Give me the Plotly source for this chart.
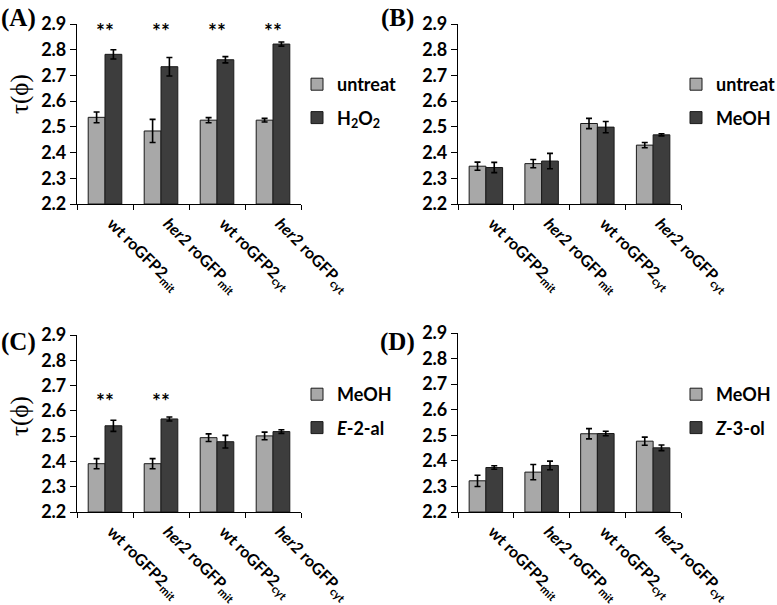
import plotly.graph_objects as go

# ---------------- data ----------------
categories = ["wt roGFP2<sub>mit</sub>", "<i>her2</i> roGFP<sub>mit</sub>",
              "wt roGFP2<sub>cyt</sub>", "<i>her2</i> roGFP<sub>cyt</sub>"]

y_ticks = [2.2, 2.3, 2.4, 2.5, 2.6, 2.7, 2.8, 2.9]

# Panel A
a_names = ["untreat", "H<sub>2</sub>O<sub>2</sub>"]
a_ctrl = [2.537, 2.484, 2.526, 2.526]
a_ctrl_err = [0.021, 0.045, 0.010, 0.007]
a_trt = [2.782, 2.734, 2.761, 2.822]
a_trt_err = [0.018, 0.036, 0.012, 0.008]
a_sig = ["**", "**", "**", "**"]
a_sig_level = 2.875

# Panel B
b_names = ["untreat", "MeOH"]
b_ctrl = [2.347, 2.357, 2.513, 2.429]
b_ctrl_err = [0.016, 0.016, 0.020, 0.010]
b_trt = [2.342, 2.367, 2.499, 2.469]
b_trt_err = [0.020, 0.030, 0.022, 0.004]
b_sig = ["", "", "", ""]
b_sig_level = 2.875

# Panel C
c_names = ["MeOH", "<i>E</i>-2-al"]
c_ctrl = [2.391, 2.391, 2.494, 2.501]
c_ctrl_err = [0.020, 0.020, 0.015, 0.015]
c_trt = [2.541, 2.568, 2.478, 2.518]
c_trt_err = [0.022, 0.008, 0.025, 0.007]
c_sig = ["**", "**", "", ""]
c_sig_level = 2.64

# Panel D
d_names = ["MeOH", "<i>Z</i>-3-ol"]
d_ctrl = [2.322, 2.356, 2.506, 2.477]
d_ctrl_err = [0.022, 0.030, 0.020, 0.016]
d_trt = [2.374, 2.382, 2.507, 2.451]
d_trt_err = [0.007, 0.017, 0.009, 0.011]
d_sig = ["", "", "", ""]
d_sig_level = 2.64

# ---------------- styling / layout ----------------
W, H = 777, 605
LIGHT = "#a8a8a8"
DARK = "#3d3d3d"
TICK_FONT = dict(family="Lato", size=18, color="black", weight="bold")
XTICK_FONT = dict(family="Lato", size=16, color="black", weight="bold")

# pixel boxes of each plot area: (left, right, top(2.9), bottom(2.2))
boxes = {
    "A": (77, 301, 24, 204),
    "B": (458, 681, 24, 204),
    "C": (77, 301, 335, 512),
    "D": (458, 681, 333, 512),
}

panels = [
    ("A", a_names, a_ctrl, a_ctrl_err, a_trt, a_trt_err, a_sig, a_sig_level),
    ("B", b_names, b_ctrl, b_ctrl_err, b_trt, b_trt_err, b_sig, b_sig_level),
    ("C", c_names, c_ctrl, c_ctrl_err, c_trt, c_trt_err, c_sig, c_sig_level),
    ("D", d_names, d_ctrl, d_ctrl_err, d_trt, d_trt_err, d_sig, d_sig_level),
]

fig = go.Figure()
layout = dict(
    width=W, height=H, margin=dict(l=0, r=0, t=0, b=0, autoexpand=False),
    paper_bgcolor="white", plot_bgcolor="white",
    barmode="group", bargap=0.4, bargroupgap=0.0,
    font=dict(family="Lato", size=15, color="black"),
    annotations=[],
)

legend_pos = {"A": (297, 66), "B": (676, 66), "C": (297, 376), "D": (676, 376)}
label_pos = {"A": (18, 18), "B": (397, 18), "C": (18, 342), "D": (397, 342)}

for i, (key, names, ctrl, ctrl_err, trt, trt_err, sig, sig_level) in enumerate(panels):
    n = "" if i == 0 else str(i + 1)
    xa, ya = "x" + n, "y" + n
    lg = "legend" + n
    left, right, top, bottom = boxes[key]
    for name, vals, errs, col in ((names[0], ctrl, ctrl_err, LIGHT), (names[1], trt, trt_err, DARK)):
        fig.add_trace(go.Bar(
            x=categories, y=[v - 2.2 for v in vals], base=2.2, name="<b>" + name + "</b>",
            xaxis=xa, yaxis=ya, legend=lg, legendgroup=key + name,
            marker=dict(color=col, line=dict(color="#1a1a1a", width=1)),
            error_y=dict(type="data", array=errs, visible=True,
                         color="black", thickness=1.6, width=3),
            hoverinfo="skip",
        ))
    layout["xaxis" + n] = dict(
        domain=[left / W, right / W], anchor=ya,
        showline=True, linecolor="black", linewidth=1.2,
        ticks="outside", tickson="boundaries", ticklen=5, tickcolor="black",
        tickangle=45, tickfont=XTICK_FONT, showgrid=False,
        type="category", ticklabelshift=7, ticklabelstandoff=3,
        tickvals=categories, ticktext=["<b>" + c + "</b>" for c in categories],
    )
    layout["yaxis" + n] = dict(
        domain=[1 - bottom / H, 1 - top / H], anchor=xa,
        range=[2.2, 2.9], tickvals=y_ticks,
        ticktext=["<b>%.1f</b>" % t for t in y_ticks],
        showline=True, linecolor="black", linewidth=1.2,
        ticks="outside", ticklen=6, tickcolor="black",
        tickfont=TICK_FONT, showgrid=False, zeroline=False,
    )
    lx, ly = legend_pos[key]
    layout[lg] = dict(
        x=lx / W, y=1 - ly / H, xanchor="left", yanchor="top",
        bgcolor="rgba(0,0,0,0)", traceorder="grouped", tracegroupgap=7,
        font=dict(family="Lato", size=18, color="black", weight="bold"),
        itemclick=False,
    )
    # significance marks
    for j, s in enumerate(sig):
        if s:
            layout["annotations"].append(dict(
                x=categories[j], y=sig_level, xref=xa, yref=ya, text="<b>" + s + "</b>",
                showarrow=False, font=dict(family="Lato", size=21, color="black", weight="bold"),
                xanchor="center", yanchor="middle",
            ))
    # panel label
    px, py = label_pos[key]
    layout["annotations"].append(dict(
        x=px / W, y=1 - py / H, xref="paper", yref="paper", text="<b>(" + key + ")</b>",
        showarrow=False, xanchor="center", yanchor="middle",
        font=dict(family="Liberation Serif", size=25, color="black", weight="bold"),
    ))

# y axis titles (left panels)
for key, (tx, ty) in {"A": (20, 94), "C": (20, 416)}.items():
    layout["annotations"].append(dict(
        x=tx / W, y=1 - ty / H, xref="paper", yref="paper", text="τ(ϕ)",
        textangle=-90, showarrow=False, xanchor="center", yanchor="middle",
        font=dict(family="Liberation Serif", size=25, color="black", weight="normal"),
    ))

fig.update_layout(**layout)
fig.write_html("out.html", config={"displayModeBar": False},
               post_script="document.body.style.margin='0';")
